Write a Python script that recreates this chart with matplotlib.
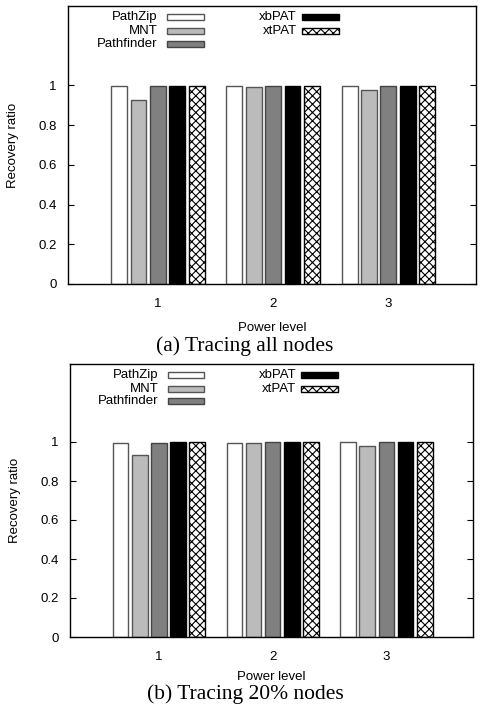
import matplotlib.pyplot as plt
from matplotlib.patches import Rectangle
import numpy as np

plt.rcParams['font.family'] = ['Liberation Sans', 'DejaVu Sans']
plt.rcParams['hatch.linewidth'] = 0.8

levels = [1, 2, 3]
methods = ["PathZip", "MNT", "Pathfinder", "xbPAT", "xtPAT"]

# recovery ratio per method, one value per power level
all_nodes = {
    "PathZip":    [0.995, 0.997, 0.997],
    "MNT":        [0.925, 0.992, 0.978],
    "Pathfinder": [0.995, 0.998, 0.998],
    "xbPAT":      [0.998, 0.999, 0.999],
    "xtPAT":      [0.998, 0.999, 0.999],
}
part_nodes = {
    "PathZip":    [0.995, 0.997, 0.998],
    "MNT":        [0.932, 0.993, 0.980],
    "Pathfinder": [0.996, 0.999, 0.998],
    "xbPAT":      [0.998, 0.999, 0.999],
    "xtPAT":      [0.998, 0.999, 0.999],
}
captions = ["(a) Tracing all nodes", "(b) Tracing 20% nodes"]

styles = {
    "PathZip":    dict(facecolor="white", edgecolor="#555555", hatch=None),
    "MNT":        dict(facecolor="#bbbbbb", edgecolor="#555555", hatch=None),
    "Pathfinder": dict(facecolor="#808080", edgecolor="#444444", hatch=None),
    "xbPAT":      dict(facecolor="black", edgecolor="black", hatch=None),
    "xtPAT":      dict(facecolor="white", edgecolor="black", hatch="xxxx"),
}

fig = plt.figure(figsize=(4.8, 7.11), dpi=100)
ax_rects = [[68/480, 1 - 284/711, 408/480, 278/711],
            [70/480, 1 - 637/711, 403/480, 273/711]]
cap_y = [1 - 346/711, 1 - 694/711]
xlab_pad = [9, 6]

pitch = 0.168
width = 0.138
x = np.array(levels, dtype=float)

for k, data in enumerate([all_nodes, part_nodes]):
    ax = fig.add_axes(ax_rects[k])
    for i, m in enumerate(methods):
        st = styles[m]
        ax.bar(x + (i - 2) * pitch, data[m], width, facecolor=st["facecolor"],
               edgecolor=st["edgecolor"], hatch=st["hatch"], linewidth=1.0)
    ax.set_xlim(0.22, 3.76)
    ax.set_ylim(0, 1.4)
    ax.set_yticks([0, 0.2, 0.4, 0.6, 0.8, 1.0])
    ax.set_yticklabels(["0", "0.2", "0.4", "0.6", "0.8", "1"])
    ax.set_xticks(levels)
    ax.set_xticklabels([str(v) for v in levels])
    ax.tick_params(axis='y', direction='in', length=4, right=True, labelsize=9.5, pad=8)
    ax.tick_params(axis='x', length=0, labelsize=9.5, pad=10)
    for sp in ax.spines.values():
        sp.set_linewidth(1.0)
    ax.set_ylabel("Recovery ratio", fontsize=9.5, labelpad=14)
    ax.set_xlabel("Power level", fontsize=9.5, labelpad=xlab_pad[k])

    # gnuplot-style key: right-aligned labels with sample boxes
    cols = [(0.22, 0.243), (0.561, 0.574)]
    rows = [0.96, 0.91, 0.863]
    for i, m in enumerate(methods):
        c = 0 if i < 3 else 1
        r = i if i < 3 else i - 3
        tx, bx = cols[c]
        ty = rows[r]
        ax.text(tx, ty, m, transform=ax.transAxes, ha='right', va='center', fontsize=9.5)
        st = styles[m]
        ax.add_patch(Rectangle((bx, ty - 0.011), 0.09, 0.022, transform=ax.transAxes,
                               facecolor=st["facecolor"], edgecolor=st["edgecolor"],
                               hatch=st["hatch"], linewidth=1.0, clip_on=False))

    fig.text(245/480, cap_y[k], captions[k], ha='center', va='center',
             fontsize=15.5, family=['Liberation Serif', 'DejaVu Serif'])

fig.savefig("out.png", dpi=100)
